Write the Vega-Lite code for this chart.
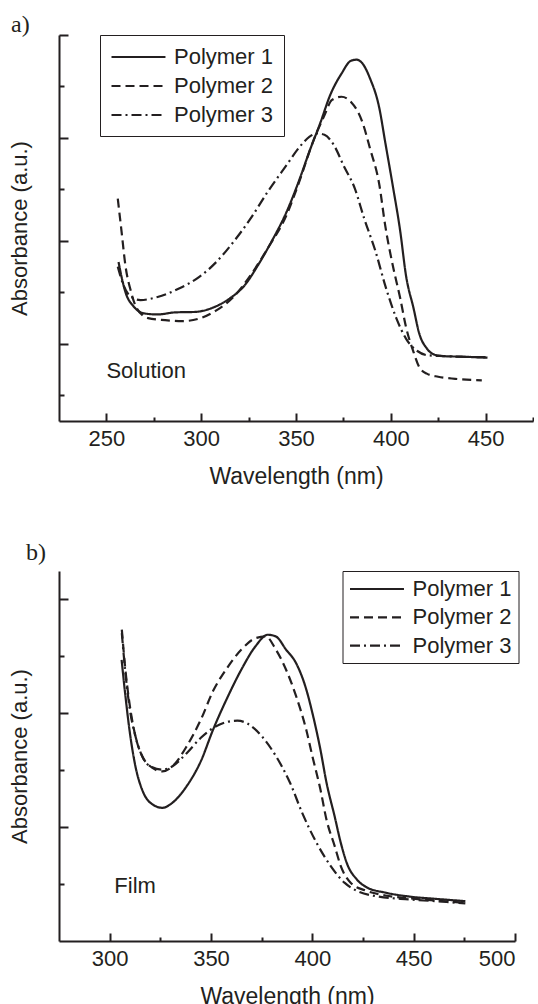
{
  "$schema": "https://vega.github.io/schema/vega-lite/v6.json",
  "padding": {"left": 8, "top": 13, "right": 0, "bottom": 0},
  "background": "white",
  "config": {
    "view": {"stroke": null},
    "font": "Liberation Sans",
    "concat": {"spacing": 52},
    "axis": {
      "grid": false,
      "domainColor": "#231f20",
      "domainWidth": 2,
      "tickColor": "#231f20",
      "tickWidth": 2,
      "labelFont": "Liberation Sans",
      "labelFontSize": 22,
      "labelColor": "#231f20",
      "titleFont": "Liberation Sans",
      "titleFontSize": 22,
      "titleFontWeight": "normal",
      "titleColor": "#231f20"
    },
    "legend": {
      "title": null,
      "orient": "none",
      "strokeColor": "#231f20",
      "padding": 10,
      "symbolType": "M-1,0H4.14",
      "symbolSize": 441,
      "symbolStrokeWidth": 2.2,
      "symbolStrokeColor": "#231f20",
      "labelFont": "Liberation Sans",
      "labelFontSize": 22,
      "labelColor": "#231f20",
      "labelOffset": 40,
      "labelLimit": 0,
      "rowPadding": 6
    }
  },
  "datasets": {
    "solution": [
      {"wl": 256.4, "abs": 2.59, "series": "Polymer 1"},
      {"wl": 258, "abs": 2.30, "series": "Polymer 1"},
      {"wl": 260, "abs": 2.01, "series": "Polymer 1"},
      {"wl": 264.5, "abs": 1.72, "series": "Polymer 1"},
      {"wl": 270, "abs": 1.59, "series": "Polymer 1"},
      {"wl": 277, "abs": 1.57, "series": "Polymer 1"},
      {"wl": 286, "abs": 1.61, "series": "Polymer 1"},
      {"wl": 297, "abs": 1.62, "series": "Polymer 1"},
      {"wl": 306, "abs": 1.70, "series": "Polymer 1"},
      {"wl": 315, "abs": 1.88, "series": "Polymer 1"},
      {"wl": 323, "abs": 2.14, "series": "Polymer 1"},
      {"wl": 330, "abs": 2.53, "series": "Polymer 1"},
      {"wl": 337, "abs": 2.98, "series": "Polymer 1"},
      {"wl": 345, "abs": 3.56, "series": "Polymer 1"},
      {"wl": 352, "abs": 4.21, "series": "Polymer 1"},
      {"wl": 357, "abs": 4.73, "series": "Polymer 1"},
      {"wl": 363, "abs": 5.31, "series": "Polymer 1"},
      {"wl": 368, "abs": 5.83, "series": "Polymer 1"},
      {"wl": 374, "abs": 6.25, "series": "Polymer 1"},
      {"wl": 379, "abs": 6.50, "series": "Polymer 1"},
      {"wl": 382, "abs": 6.52, "series": "Polymer 1"},
      {"wl": 385, "abs": 6.45, "series": "Polymer 1"},
      {"wl": 389, "abs": 6.16, "series": "Polymer 1"},
      {"wl": 394, "abs": 5.57, "series": "Polymer 1"},
      {"wl": 397, "abs": 4.93, "series": "Polymer 1"},
      {"wl": 401, "abs": 4.08, "series": "Polymer 1"},
      {"wl": 405, "abs": 3.18, "series": "Polymer 1"},
      {"wl": 408, "abs": 2.33, "series": "Polymer 1"},
      {"wl": 412, "abs": 1.69, "series": "Polymer 1"},
      {"wl": 415, "abs": 1.20, "series": "Polymer 1"},
      {"wl": 419, "abs": 0.91, "series": "Polymer 1"},
      {"wl": 423, "abs": 0.79, "series": "Polymer 1"},
      {"wl": 428, "abs": 0.76, "series": "Polymer 1"},
      {"wl": 437, "abs": 0.75, "series": "Polymer 1"},
      {"wl": 451, "abs": 0.73, "series": "Polymer 1"},
      {"wl": 256, "abs": 3.82, "series": "Polymer 2"},
      {"wl": 258, "abs": 3.18, "series": "Polymer 2"},
      {"wl": 260, "abs": 2.53, "series": "Polymer 2"},
      {"wl": 263, "abs": 2.01, "series": "Polymer 2"},
      {"wl": 266, "abs": 1.69, "series": "Polymer 2"},
      {"wl": 272, "abs": 1.50, "series": "Polymer 2"},
      {"wl": 281, "abs": 1.46, "series": "Polymer 2"},
      {"wl": 290, "abs": 1.44, "series": "Polymer 2"},
      {"wl": 299, "abs": 1.49, "series": "Polymer 2"},
      {"wl": 308, "abs": 1.65, "series": "Polymer 2"},
      {"wl": 317, "abs": 1.91, "series": "Polymer 2"},
      {"wl": 326, "abs": 2.33, "series": "Polymer 2"},
      {"wl": 335, "abs": 2.85, "series": "Polymer 2"},
      {"wl": 345, "abs": 3.50, "series": "Polymer 2"},
      {"wl": 352, "abs": 4.18, "series": "Polymer 2"},
      {"wl": 359, "abs": 4.93, "series": "Polymer 2"},
      {"wl": 365, "abs": 5.44, "series": "Polymer 2"},
      {"wl": 369, "abs": 5.74, "series": "Polymer 2"},
      {"wl": 374, "abs": 5.80, "series": "Polymer 2"},
      {"wl": 379, "abs": 5.70, "series": "Polymer 2"},
      {"wl": 385, "abs": 5.31, "series": "Polymer 2"},
      {"wl": 389, "abs": 4.80, "series": "Polymer 2"},
      {"wl": 394, "abs": 4.08, "series": "Polymer 2"},
      {"wl": 397, "abs": 3.31, "series": "Polymer 2"},
      {"wl": 401, "abs": 2.53, "series": "Polymer 2"},
      {"wl": 405, "abs": 1.88, "series": "Polymer 2"},
      {"wl": 408, "abs": 1.33, "series": "Polymer 2"},
      {"wl": 412, "abs": 0.84, "series": "Polymer 2"},
      {"wl": 415, "abs": 0.55, "series": "Polymer 2"},
      {"wl": 419, "abs": 0.42, "series": "Polymer 2"},
      {"wl": 425, "abs": 0.36, "series": "Polymer 2"},
      {"wl": 434, "abs": 0.32, "series": "Polymer 2"},
      {"wl": 448, "abs": 0.29, "series": "Polymer 2"},
      {"wl": 256, "abs": 2.50, "series": "Polymer 3"},
      {"wl": 259, "abs": 2.14, "series": "Polymer 3"},
      {"wl": 263, "abs": 1.91, "series": "Polymer 3"},
      {"wl": 268, "abs": 1.85, "series": "Polymer 3"},
      {"wl": 277, "abs": 1.91, "series": "Polymer 3"},
      {"wl": 288, "abs": 2.07, "series": "Polymer 3"},
      {"wl": 299, "abs": 2.30, "series": "Polymer 3"},
      {"wl": 308, "abs": 2.59, "series": "Polymer 3"},
      {"wl": 317, "abs": 2.98, "series": "Polymer 3"},
      {"wl": 326, "abs": 3.43, "series": "Polymer 3"},
      {"wl": 335, "abs": 3.95, "series": "Polymer 3"},
      {"wl": 345, "abs": 4.47, "series": "Polymer 3"},
      {"wl": 352, "abs": 4.83, "series": "Polymer 3"},
      {"wl": 357, "abs": 5.02, "series": "Polymer 3"},
      {"wl": 361, "abs": 5.09, "series": "Polymer 3"},
      {"wl": 365, "abs": 5.06, "series": "Polymer 3"},
      {"wl": 370, "abs": 4.86, "series": "Polymer 3"},
      {"wl": 375, "abs": 4.47, "series": "Polymer 3"},
      {"wl": 381, "abs": 4.02, "series": "Polymer 3"},
      {"wl": 386, "abs": 3.43, "series": "Polymer 3"},
      {"wl": 392, "abs": 2.79, "series": "Polymer 3"},
      {"wl": 397, "abs": 2.14, "series": "Polymer 3"},
      {"wl": 403, "abs": 1.49, "series": "Polymer 3"},
      {"wl": 408, "abs": 1.10, "series": "Polymer 3"},
      {"wl": 414, "abs": 0.86, "series": "Polymer 3"},
      {"wl": 419, "abs": 0.78, "series": "Polymer 3"},
      {"wl": 428, "abs": 0.76, "series": "Polymer 3"},
      {"wl": 450, "abs": 0.74, "series": "Polymer 3"}
    ],
    "film": [
      {"wl": 305.9, "abs": 4.94, "series": "Polymer 1"},
      {"wl": 307.6, "abs": 4.36, "series": "Polymer 1"},
      {"wl": 310, "abs": 3.65, "series": "Polymer 1"},
      {"wl": 312.7, "abs": 3.07, "series": "Polymer 1"},
      {"wl": 316, "abs": 2.66, "series": "Polymer 1"},
      {"wl": 320, "abs": 2.43, "series": "Polymer 1"},
      {"wl": 326, "abs": 2.34, "series": "Polymer 1"},
      {"wl": 331, "abs": 2.43, "series": "Polymer 1"},
      {"wl": 338, "abs": 2.72, "series": "Polymer 1"},
      {"wl": 345, "abs": 3.16, "series": "Polymer 1"},
      {"wl": 351, "abs": 3.71, "series": "Polymer 1"},
      {"wl": 358, "abs": 4.27, "series": "Polymer 1"},
      {"wl": 365, "abs": 4.77, "series": "Polymer 1"},
      {"wl": 372, "abs": 5.18, "series": "Polymer 1"},
      {"wl": 378, "abs": 5.38, "series": "Polymer 1"},
      {"wl": 382, "abs": 5.35, "series": "Polymer 1"},
      {"wl": 387, "abs": 5.12, "series": "Polymer 1"},
      {"wl": 392, "abs": 4.88, "series": "Polymer 1"},
      {"wl": 397, "abs": 4.42, "series": "Polymer 1"},
      {"wl": 400, "abs": 4.01, "series": "Polymer 1"},
      {"wl": 404, "abs": 3.36, "series": "Polymer 1"},
      {"wl": 407, "abs": 2.78, "series": "Polymer 1"},
      {"wl": 411, "abs": 2.19, "series": "Polymer 1"},
      {"wl": 414, "abs": 1.73, "series": "Polymer 1"},
      {"wl": 417, "abs": 1.37, "series": "Polymer 1"},
      {"wl": 422, "abs": 1.08, "series": "Polymer 1"},
      {"wl": 427, "abs": 0.94, "series": "Polymer 1"},
      {"wl": 436, "abs": 0.85, "series": "Polymer 1"},
      {"wl": 448, "abs": 0.78, "series": "Polymer 1"},
      {"wl": 461, "abs": 0.74, "series": "Polymer 1"},
      {"wl": 475.5, "abs": 0.70, "series": "Polymer 1"},
      {"wl": 306, "abs": 5.47, "series": "Polymer 2"},
      {"wl": 307.6, "abs": 4.82, "series": "Polymer 2"},
      {"wl": 310, "abs": 4.12, "series": "Polymer 2"},
      {"wl": 312.7, "abs": 3.60, "series": "Polymer 2"},
      {"wl": 316, "abs": 3.25, "series": "Polymer 2"},
      {"wl": 320, "abs": 3.07, "series": "Polymer 2"},
      {"wl": 326, "abs": 2.98, "series": "Polymer 2"},
      {"wl": 331, "abs": 3.07, "series": "Polymer 2"},
      {"wl": 338, "abs": 3.42, "series": "Polymer 2"},
      {"wl": 345, "abs": 3.89, "series": "Polymer 2"},
      {"wl": 351, "abs": 4.39, "series": "Polymer 2"},
      {"wl": 358, "abs": 4.80, "series": "Polymer 2"},
      {"wl": 365, "abs": 5.12, "series": "Polymer 2"},
      {"wl": 372, "abs": 5.32, "series": "Polymer 2"},
      {"wl": 377, "abs": 5.35, "series": "Polymer 2"},
      {"wl": 382, "abs": 5.12, "series": "Polymer 2"},
      {"wl": 387, "abs": 4.77, "series": "Polymer 2"},
      {"wl": 392, "abs": 4.30, "series": "Polymer 2"},
      {"wl": 397, "abs": 3.71, "series": "Polymer 2"},
      {"wl": 400, "abs": 3.25, "series": "Polymer 2"},
      {"wl": 404, "abs": 2.66, "series": "Polymer 2"},
      {"wl": 407, "abs": 2.13, "series": "Polymer 2"},
      {"wl": 411, "abs": 1.67, "series": "Polymer 2"},
      {"wl": 414, "abs": 1.32, "series": "Polymer 2"},
      {"wl": 419, "abs": 1.02, "series": "Polymer 2"},
      {"wl": 426, "abs": 0.89, "series": "Polymer 2"},
      {"wl": 436, "abs": 0.80, "series": "Polymer 2"},
      {"wl": 448, "abs": 0.75, "series": "Polymer 2"},
      {"wl": 461, "abs": 0.71, "series": "Polymer 2"},
      {"wl": 475.5, "abs": 0.67, "series": "Polymer 2"},
      {"wl": 306, "abs": 5.41, "series": "Polymer 3"},
      {"wl": 307.6, "abs": 4.77, "series": "Polymer 3"},
      {"wl": 310, "abs": 4.06, "series": "Polymer 3"},
      {"wl": 312.7, "abs": 3.60, "series": "Polymer 3"},
      {"wl": 316, "abs": 3.25, "series": "Polymer 3"},
      {"wl": 320, "abs": 3.07, "series": "Polymer 3"},
      {"wl": 326, "abs": 3.01, "series": "Polymer 3"},
      {"wl": 331, "abs": 3.07, "series": "Polymer 3"},
      {"wl": 338, "abs": 3.30, "series": "Polymer 3"},
      {"wl": 345, "abs": 3.57, "series": "Polymer 3"},
      {"wl": 351, "abs": 3.74, "series": "Polymer 3"},
      {"wl": 358, "abs": 3.85, "series": "Polymer 3"},
      {"wl": 363, "abs": 3.87, "series": "Polymer 3"},
      {"wl": 368, "abs": 3.82, "series": "Polymer 3"},
      {"wl": 375, "abs": 3.60, "series": "Polymer 3"},
      {"wl": 382, "abs": 3.25, "series": "Polymer 3"},
      {"wl": 389, "abs": 2.78, "series": "Polymer 3"},
      {"wl": 395, "abs": 2.25, "series": "Polymer 3"},
      {"wl": 402, "abs": 1.73, "series": "Polymer 3"},
      {"wl": 409, "abs": 1.32, "series": "Polymer 3"},
      {"wl": 416, "abs": 1.02, "series": "Polymer 3"},
      {"wl": 422, "abs": 0.88, "series": "Polymer 3"},
      {"wl": 431, "abs": 0.79, "series": "Polymer 3"},
      {"wl": 448, "abs": 0.73, "series": "Polymer 3"},
      {"wl": 465, "abs": 0.69, "series": "Polymer 3"},
      {"wl": 475.5, "abs": 0.66, "series": "Polymer 3"}
    ]
  },
  "vconcat": [
    {
      "title": {"text": "a)", "anchor": "start", "frame": "bounds", "font": "Liberation Serif", "fontSize": 24, "fontWeight": "normal", "color": "#231f20", "baseline": "alphabetic", "offset": -22, "dx": 3},
      "width": 474,
      "height": 386,
      "layer": [
        {
          "data": {"name": "solution"},
          "mark": {"type": "line", "strokeWidth": 2.2, "color": "#231f20", "interpolate": "monotone"},
          "encoding": {
            "x": {"field": "wl", "type": "quantitative", "scale": {"domain": [225, 475], "nice": false, "zero": false},
              "axis": {"title": "Wavelength (nm)", "values": [250, 275, 300, 325, 350, 375, 400, 425, 450, 475],
                "labelExpr": "datum.value % 50 === 0 ? datum.label : ''",
                "tickSize": {"condition": {"test": "datum.value % 50 === 0", "value": -8}, "value": -4},
                "labelPadding": 15, "titlePadding": 16, "titleFontSize": 23}},
            "y": {"field": "abs", "type": "quantitative", "scale": {"domain": [-0.5, 7], "nice": false, "zero": false},
              "axis": {"title": "Absorbance (a.u.)", "values": [0, 1, 2, 3, 4, 5, 6, 7], "labels": false,
                "tickSize": {"condition": {"test": "datum.value % 2 === 1", "value": -9}, "value": -5},
                "titlePadding": 27}},
            "strokeDash": {"field": "series", "type": "nominal",
              "scale": {"domain": ["Polymer 1", "Polymer 2", "Polymer 3"], "range": [[1, 0], [9, 5], [10, 4, 2, 4]]},
              "legend": {"legendX": 41, "legendY": 0}}
          }
        },
        {
          "data": {"values": [{"wl": 250, "abs": 0.47, "label": "Solution"}]},
          "mark": {"type": "text", "align": "left", "baseline": "middle", "fontSize": 22, "font": "Liberation Sans", "color": "#231f20"},
          "encoding": {
            "x": {"field": "wl", "type": "quantitative"},
            "y": {"field": "abs", "type": "quantitative"},
            "text": {"field": "label"}
          }
        }
      ]
    },
    {
      "title": {"text": "b)", "anchor": "start", "frame": "bounds", "font": "Liberation Serif", "fontSize": 24, "fontWeight": "normal", "color": "#231f20", "baseline": "alphabetic", "offset": -13, "dx": 18},
      "width": 456,
      "height": 370,
      "layer": [
        {
          "data": {"name": "film"},
          "mark": {"type": "line", "strokeWidth": 2.2, "color": "#231f20", "interpolate": "monotone"},
          "encoding": {
            "x": {"field": "wl", "type": "quantitative", "scale": {"domain": [275, 500], "nice": false, "zero": false},
              "axis": {"title": "Wavelength (nm)", "values": [300, 325, 350, 375, 400, 425, 450, 475, 500],
                "labelExpr": "datum.value % 50 === 0 ? datum.label : ''",
                "tickSize": {"condition": {"test": "datum.value % 50 === 0", "value": -8}, "value": -4},
                "labelPadding": 15, "titlePadding": 16, "titleFontSize": 23}},
            "y": {"field": "abs", "type": "quantitative", "scale": {"domain": [0, 6.5], "nice": false, "zero": false},
              "axis": {"title": "Absorbance (a.u.)", "values": [1, 2, 3, 4, 5, 6], "labels": false,
                "tickSize": {"condition": {"test": "datum.value % 2 === 0", "value": -9}, "value": -5},
                "titlePadding": 27}},
            "strokeDash": {"field": "series", "type": "nominal",
              "scale": {"domain": ["Polymer 1", "Polymer 2", "Polymer 3"], "range": [[1, 0], [9, 5], [10, 4, 2, 4]]},
              "legend": {"legendX": 283.5, "legendY": 0, "padding": 6, "rowPadding": 5.3}}
          }
        },
        {
          "data": {"values": [{"wl": 302.3, "abs": 0.96, "label": "Film"}]},
          "mark": {"type": "text", "align": "left", "baseline": "middle", "fontSize": 22, "font": "Liberation Sans", "color": "#231f20"},
          "encoding": {
            "x": {"field": "wl", "type": "quantitative"},
            "y": {"field": "abs", "type": "quantitative"},
            "text": {"field": "label"}
          }
        }
      ]
    }
  ],
  "resolve": {"scale": {"strokeDash": "independent"}, "legend": {"strokeDash": "independent"}}
}
